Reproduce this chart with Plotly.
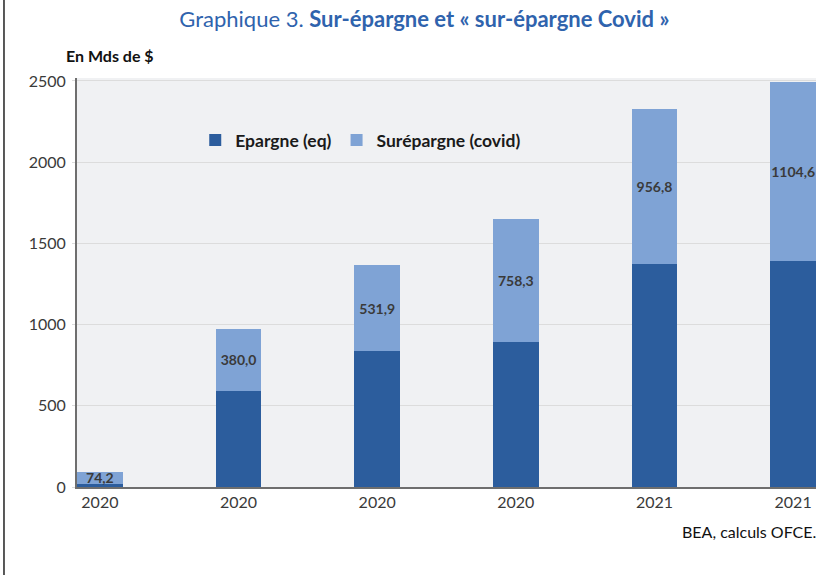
import plotly.graph_objects as go

# Data
positions = [0, 1, 2, 3, 4, 5]
tick_labels = ["2020", "2020", "2020", "2020", "2021", "2021"]
epargne_eq = [20, 592, 835, 890, 1372, 1390]
surepargne_covid = [74.2, 380.0, 531.9, 758.3, 956.8, 1104.6]
y_ticks = [0, 500, 1000, 1500, 2000, 2500]

DARK = "#2c5d9d"
LIGHT = "#7fa3d5"
FONT = "Lato"

def fr(v):
    return f"{v:.1f}".replace(".", ",")

fig = go.Figure()
fig.add_trace(go.Bar(
    x=positions, y=epargne_eq, name="<b>Epargne (eq)</b>",
    marker=dict(color=DARK, line=dict(width=0)), width=0.33,
    hoverinfo="skip",
))
fig.add_trace(go.Bar(
    x=positions, y=surepargne_covid, name="<b>Surépargne (covid)</b>",
    marker=dict(color=LIGHT, line=dict(width=0)), width=0.33,
    text=[f"<b>{fr(v)}</b>" for v in surepargne_covid],
    textposition="inside", insidetextanchor="middle", textangle=0,
    constraintext="none", cliponaxis=False,
    textfont=dict(family=FONT, size=14, color="#3a3a3a"),
    hoverinfo="skip",
))

fig.update_layout(
    width=837, height=575,
    barmode="stack",
    paper_bgcolor="white",
    plot_bgcolor="#f0f1f3",
    margin=dict(l=77, r=21, t=78, b=88),
    font=dict(family=FONT, size=16, color="#3a3a3a"),
    title=dict(
        text="Graphique 3. <b>Sur-épargne et « sur-épargne Covid »</b>",
        x=0.507, xanchor="center", xref="container",
        y=1 - 19 / 575, yanchor="middle", yref="container",
        font=dict(family=FONT, size=22, color="#2f63ad"),
    ),
    showlegend=True,
    legend=dict(
        orientation="h", x=0.16, xanchor="left", y=0.848, yanchor="middle",
        bgcolor="rgba(0,0,0,0)", font=dict(family=FONT, size=17.5, color="#1a1a1a"),
        itemwidth=30, traceorder="normal",
    ),
    xaxis=dict(
        range=[-0.165, 5.165],
        tickmode="array", tickvals=positions, ticktext=tick_labels,
        showgrid=False, zeroline=False,
        showline=True, linecolor="#6e6e6e", linewidth=2,
        ticks="", tickfont=dict(family=FONT, size=16, color="#3a3a3a"),
    ),
    yaxis=dict(
        range=[0, 2518],
        tickmode="array", tickvals=y_ticks,
        showgrid=True, gridcolor="#dcdcdc", gridwidth=1,
        zeroline=False,
        showline=True, linecolor="#6e6e6e", linewidth=2,
        ticks="outside", ticklen=3, tickcolor="#dcdcdc",
        ticklabelstandoff=3,
        tickfont=dict(family=FONT, size=16, color="#3a3a3a"),
    ),
    shapes=[dict(
        type="line", xref="paper", yref="paper",
        x0=-0.0988, x1=-0.0988, y0=-0.22, y1=1.2,
        line=dict(color="#222222", width=1.5),
    )],
    annotations=[
        dict(text="<b>En Mds de $</b>", xref="paper", yref="paper",
             x=-0.0175, y=1.056, xanchor="left", yanchor="middle",
             showarrow=False, font=dict(family=FONT, size=16, color="#111111")),
        dict(text="BEA, calculs OFCE.", xref="paper", yref="paper",
             x=1.003, y=-0.11, xanchor="right", yanchor="middle",
             showarrow=False, font=dict(family=FONT, size=16, color="#111111")),
    ],
)

fig.write_html(
    "out.html",
    config={"displayModeBar": False},
    post_script="document.body.style.margin='0';document.body.style.padding='0';",
)
